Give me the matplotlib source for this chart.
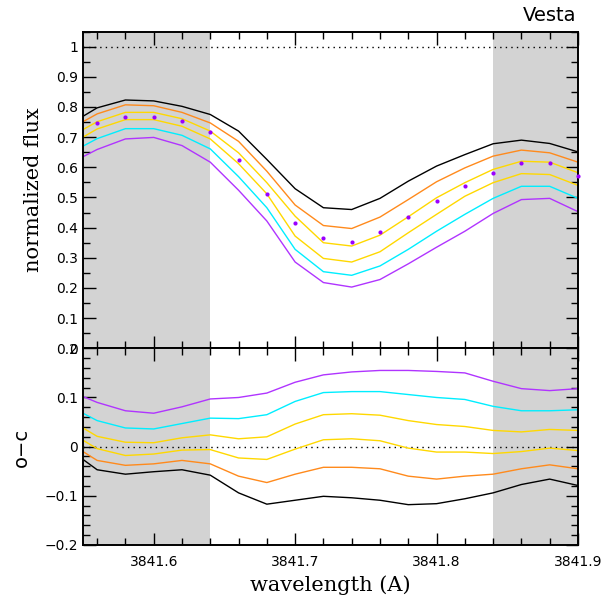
import matplotlib
matplotlib.use("Agg")
import matplotlib.pyplot as plt
from matplotlib.ticker import MultipleLocator, FuncFormatter
import numpy as np

# wavelength grid (A)
wave = [3841.54, 3841.56, 3841.58, 3841.60, 3841.62, 3841.64, 3841.66, 3841.68,
        3841.70, 3841.72, 3841.74, 3841.76, 3841.78, 3841.80, 3841.82, 3841.84,
        3841.86, 3841.88, 3841.90]

# observed normalized flux (dots)
obs_wave = [3841.56, 3841.58, 3841.60, 3841.62, 3841.64, 3841.66, 3841.68, 3841.70,
            3841.72, 3841.74, 3841.76, 3841.78, 3841.80, 3841.82, 3841.84, 3841.86,
            3841.88, 3841.90]
obs_flux = [0.748, 0.768, 0.768, 0.755, 0.716, 0.625, 0.510, 0.417, 0.364, 0.353,
            0.384, 0.434, 0.487, 0.537, 0.582, 0.613, 0.613, 0.571]

# model fluxes
model_black = [0.741, 0.797, 0.823, 0.820, 0.802, 0.775, 0.720, 0.626, 0.529, 0.466,
               0.460, 0.497, 0.554, 0.604, 0.642, 0.678, 0.690, 0.679, 0.651]
model_orange = [0.725, 0.777, 0.807, 0.804, 0.782, 0.747, 0.686, 0.587, 0.475, 0.407,
                0.397, 0.435, 0.493, 0.552, 0.598, 0.637, 0.657, 0.648, 0.617]
model_yellow1 = [0.699, 0.751, 0.782, 0.782, 0.761, 0.720, 0.648, 0.549, 0.438, 0.350,
                 0.339, 0.375, 0.436, 0.499, 0.549, 0.593, 0.620, 0.617, 0.582]
model_yellow2 = [0.673, 0.727, 0.758, 0.758, 0.736, 0.694, 0.612, 0.512, 0.372, 0.298,
                 0.286, 0.320, 0.383, 0.444, 0.504, 0.549, 0.579, 0.576, 0.540]
model_cyan = [0.645, 0.695, 0.728, 0.728, 0.706, 0.661, 0.569, 0.466, 0.328, 0.254,
              0.242, 0.273, 0.328, 0.388, 0.444, 0.497, 0.537, 0.537, 0.497]
model_purple = [0.611, 0.659, 0.694, 0.699, 0.672, 0.617, 0.524, 0.422, 0.286, 0.218,
                0.203, 0.228, 0.280, 0.335, 0.388, 0.447, 0.493, 0.497, 0.453]

# residuals (o - c)
res_black = [-0.005, -0.047, -0.056, -0.051, -0.047, -0.058, -0.094, -0.117, -0.109, -0.101,
             -0.104, -0.109, -0.118, -0.116, -0.106, -0.094, -0.077, -0.066, -0.079]
res_orange = [0.008, -0.028, -0.038, -0.035, -0.028, -0.035, -0.060, -0.073, -0.056, -0.042,
              -0.042, -0.045, -0.060, -0.066, -0.060, -0.056, -0.045, -0.037, -0.045]
res_yellow2 = [0.030, -0.004, -0.018, -0.015, -0.007, -0.006, -0.023, -0.026, -0.005, 0.014,
               0.016, 0.012, -0.003, -0.011, -0.011, -0.014, -0.010, -0.003, -0.008]
res_yellow1 = [0.055, 0.021, 0.009, 0.008, 0.018, 0.024, 0.016, 0.020, 0.046, 0.065,
               0.067, 0.064, 0.053, 0.045, 0.041, 0.033, 0.030, 0.035, 0.033]
res_cyan = [0.083, 0.053, 0.038, 0.036, 0.047, 0.058, 0.057, 0.065, 0.092, 0.110,
            0.112, 0.112, 0.106, 0.100, 0.096, 0.082, 0.073, 0.073, 0.075]
res_purple = [0.114, 0.090, 0.073, 0.068, 0.081, 0.097, 0.100, 0.109, 0.131, 0.146,
              0.152, 0.155, 0.155, 0.153, 0.150, 0.133, 0.118, 0.114, 0.118]

shade_regions = [(3841.55, 3841.64), (3841.84, 3841.90)]
xlim = (3841.55, 3841.90)

C_BLACK = "#000000"
C_ORANGE = "#ff8a1c"
C_YELLOW = "#ffd800"
C_CYAN = "#00eeff"
C_PURPLE = "#b034ff"
C_DOT = "#9a00ff"

fig = plt.figure(figsize=(6.04, 6.06), dpi=100)
L, W = 0.1374, 0.8195
ax1 = fig.add_axes([L, 0.4252, W, 0.5228])
ax2 = fig.add_axes([L, 0.1007, W, 0.3245])

for ax in (ax1, ax2):
    for a, b in shade_regions:
        ax.axvspan(a, b, color="#d3d3d3", lw=0, zorder=0)
    ax.set_xlim(*xlim)
    ax.xaxis.set_major_locator(MultipleLocator(0.1))
    ax.xaxis.set_minor_locator(MultipleLocator(0.02))
    ax.tick_params(which="both", direction="in", top=True, right=True,
                   width=1.0, labelsize=10)
    ax.tick_params(which="major", length=9)
    ax.tick_params(which="minor", length=5)
    for s in ax.spines.values():
        s.set_linewidth(1.4)

# top panel
ax1.axhline(1.0, color="black", ls=(0, (1, 3)), lw=1.0, zorder=1)
for y, c in [(model_black, C_BLACK), (model_orange, C_ORANGE), (model_yellow1, C_YELLOW),
             (model_yellow2, C_YELLOW), (model_cyan, C_CYAN), (model_purple, C_PURPLE)]:
    ax1.plot(wave, y, color=c, lw=1.0, zorder=2)
ax1.plot(obs_wave, obs_flux, ls="none", marker="o", ms=3, color=C_DOT, mec="none",
         zorder=3, clip_on=False)
ax1.set_ylim(0, 1.05)
ax1.yaxis.set_major_locator(MultipleLocator(0.1))
ax1.yaxis.set_minor_locator(MultipleLocator(0.05))
ax1.yaxis.set_major_formatter(FuncFormatter(lambda v, p: "%g" % round(v, 3)))
ax1.tick_params(axis="x", labelbottom=False)

# bottom panel
ax2.axhline(0.0, color="black", ls=(0, (1, 3)), lw=1.0, zorder=1)
for y, c in [(res_black, C_BLACK), (res_orange, C_ORANGE), (res_yellow2, C_YELLOW),
             (res_yellow1, C_YELLOW), (res_cyan, C_CYAN), (res_purple, C_PURPLE)]:
    ax2.plot(wave, y, color=c, lw=1.0, zorder=2)
ax2.set_ylim(-0.2, 0.2)
ax2.yaxis.set_major_locator(MultipleLocator(0.1))
ax2.yaxis.set_minor_locator(MultipleLocator(0.02))
ax2.yaxis.set_major_formatter(FuncFormatter(
    lambda v, p: ("%g" % round(v, 3)).replace("-", "\u2212")))
ax2.xaxis.set_major_formatter(FuncFormatter(lambda v, p: "%.1f" % v))
ax2.tick_params(axis="x", pad=7)

fig.text(0.5476, 0.035, "wavelength (A)", ha="center", va="center",
         family="DejaVu Serif", fontsize=15)
fig.text(0.055, 0.6866, "normalized flux", ha="center", va="center", rotation=90,
         family="DejaVu Serif", fontsize=15)
fig.text(0.035, 0.262, "o\u2212c", ha="center", va="center", rotation=90,
         family="DejaVu Sans", fontsize=14)
fig.text(0.955, 0.975, "Vesta", ha="right", va="center",
         family="DejaVu Sans", fontsize=14)

fig.savefig("out.png", dpi=100)
